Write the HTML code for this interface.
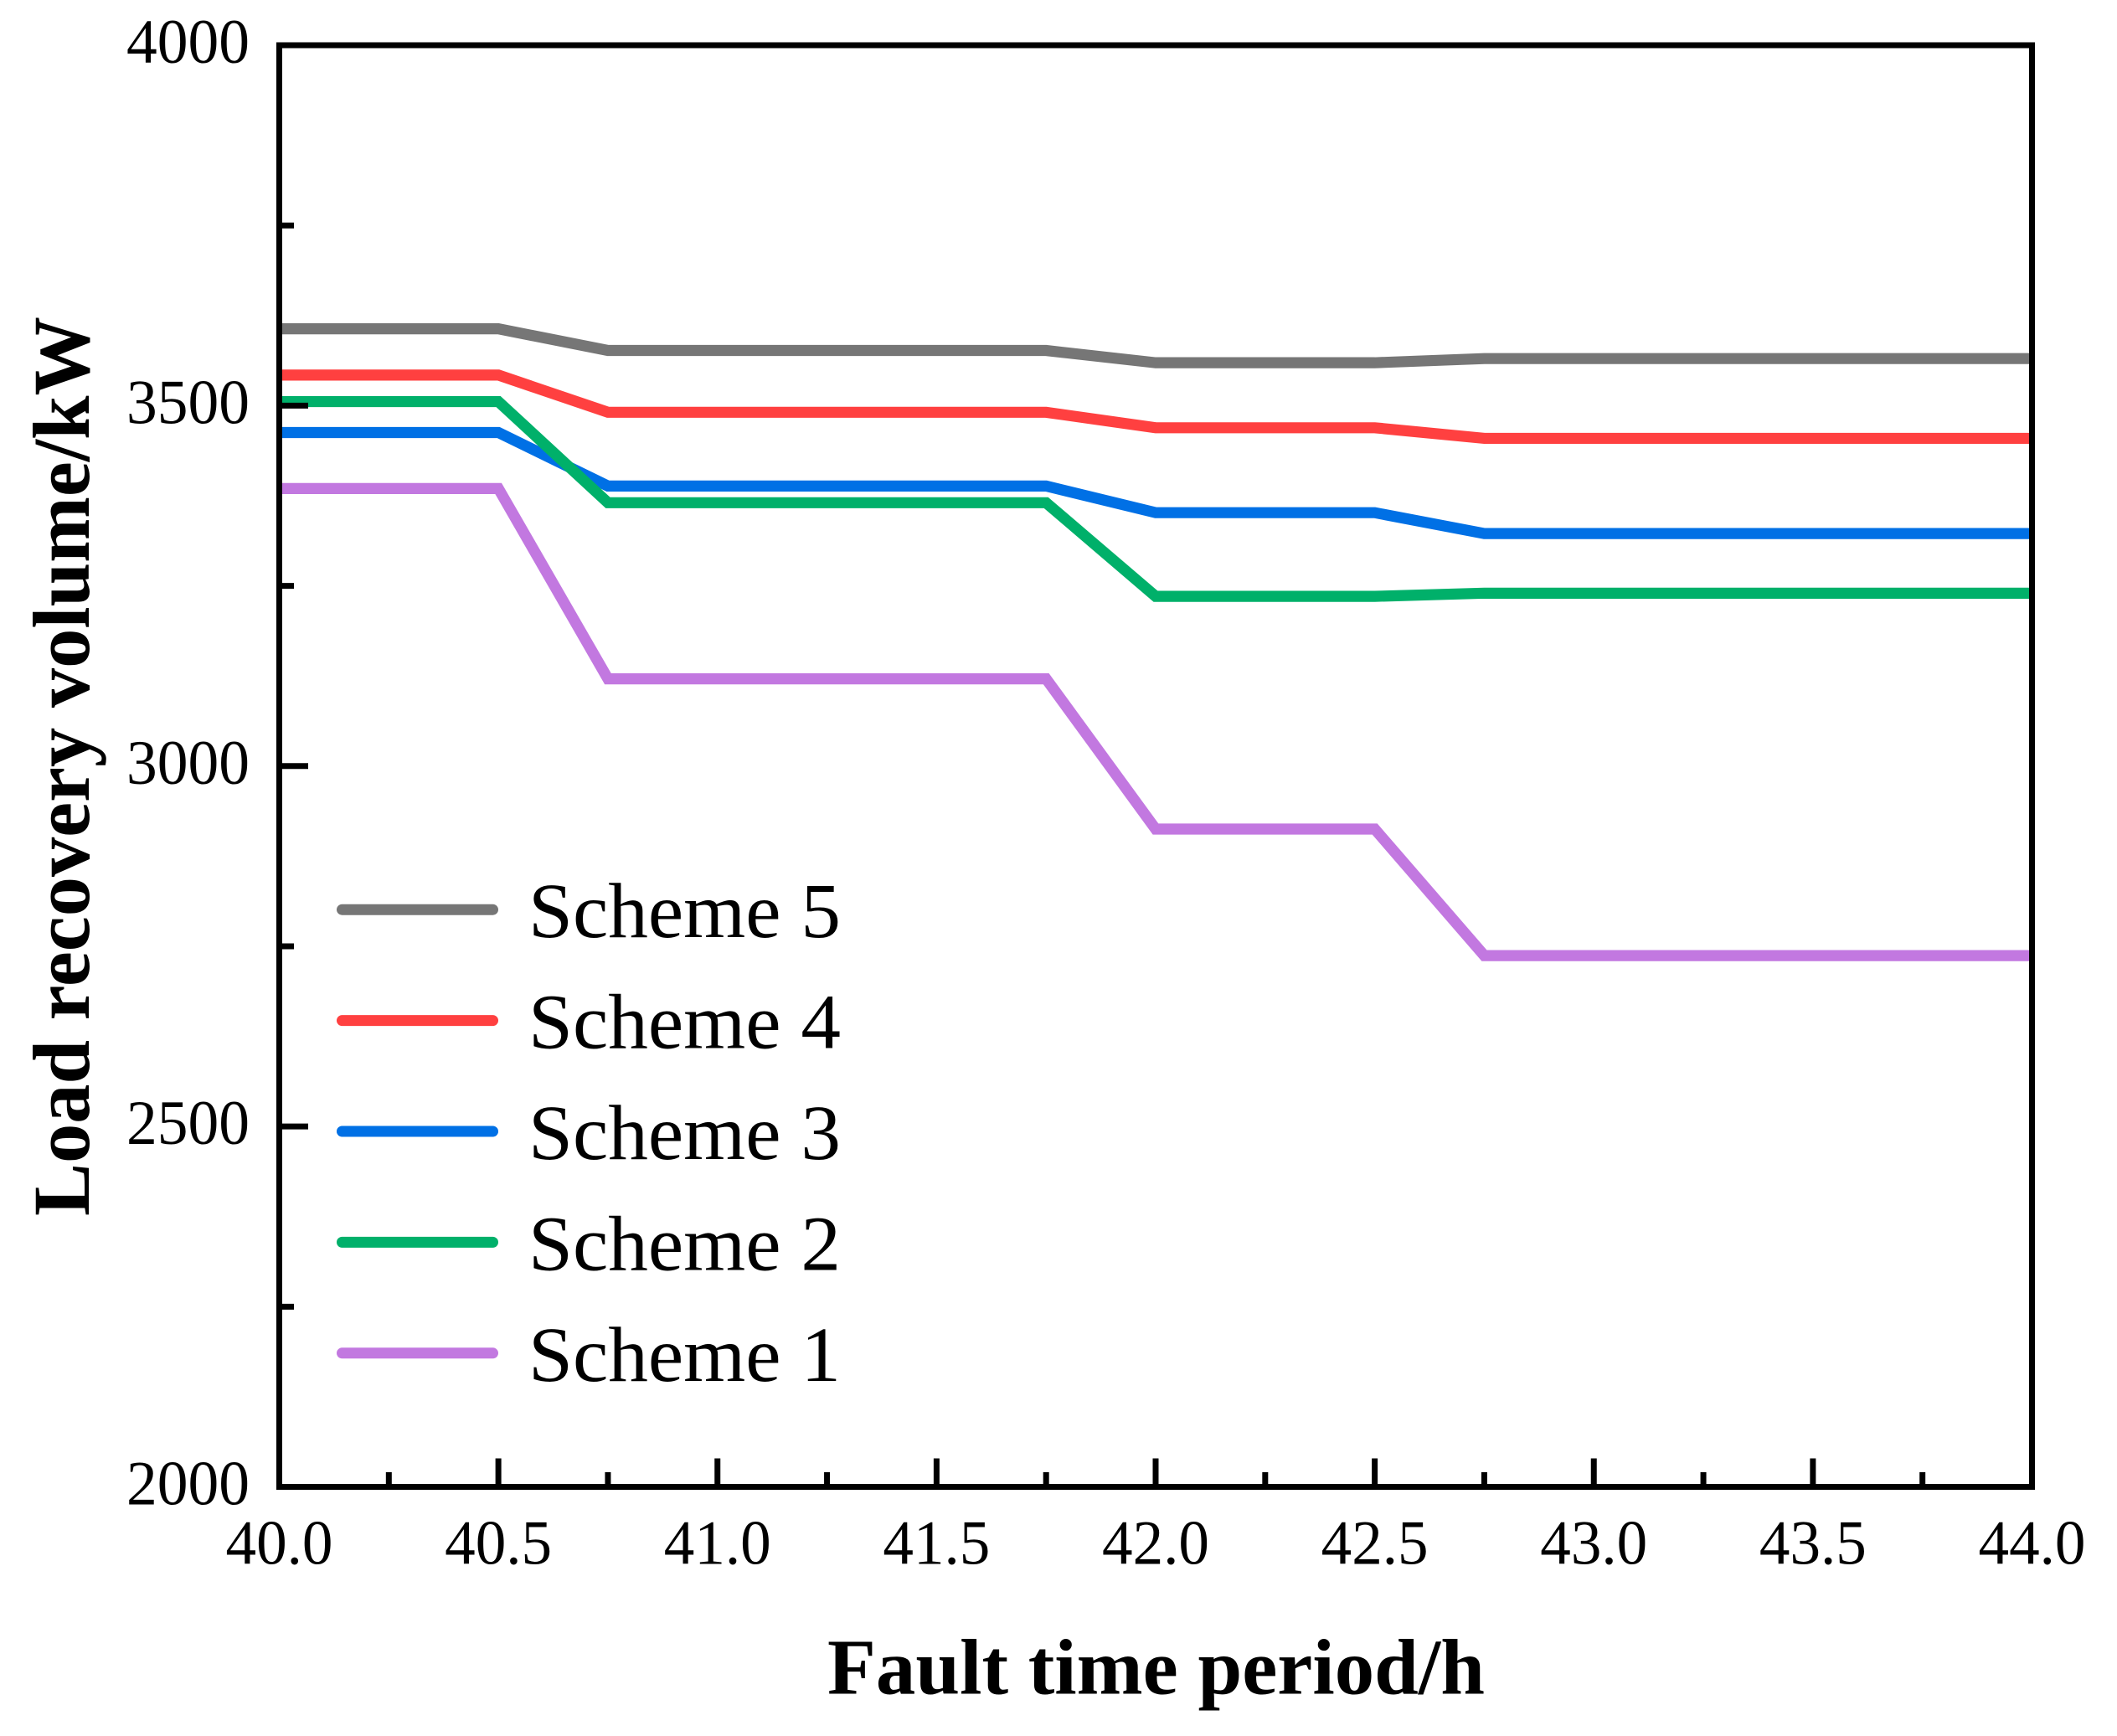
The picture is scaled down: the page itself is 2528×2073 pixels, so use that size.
<!DOCTYPE html>
<html lang="en">
<head>
<meta charset="utf-8">
<title>Load recovery volume chart</title>
<style>
html,body{margin:0;padding:0;background:#fff;}
svg{display:block;}
text{font-family:"Liberation Serif",serif;fill:#000;}
</style>
</head>
<body>
<svg id="chart" xmlns="http://www.w3.org/2000/svg" width="2528" height="2073" viewBox="0 0 2528 2073">
  <rect x="0" y="0" width="2528" height="2073" fill="#fff"/>
  <g id="series-layer"></g>
  <g id="axis-layer"></g>
  <g id="legend-layer"></g>
  <text x="988" y="2022.5" font-size="94" font-weight="bold" textLength="785" lengthAdjust="spacingAndGlyphs">Fault time period/h</text>
  <text transform="translate(106,1452) rotate(-90)" x="0" y="0" font-size="96" font-weight="bold" textLength="1074" lengthAdjust="spacingAndGlyphs">Load recovery volume/kW</text>
</svg>
<script>
const timePoints = [40, 40.5, 40.75, 41.75, 42, 42.5, 42.75, 44];
const scheme5 = [3606.6, 3606.6, 3576.5, 3576.5, 3559.5, 3559.5, 3565.3, 3565.3];
const scheme4 = [3542.4, 3542.4, 3490.8, 3490.8, 3469.3, 3469.3, 3454.6, 3454.6];
const scheme3 = [3462.7, 3462.7, 3388.5, 3388.5, 3351.5, 3351.5, 3322.5, 3322.5];
const scheme2 = [3505.6, 3505.6, 3365.3, 3365.3, 3235.4, 3235.4, 3239.8, 3239.8];
const scheme1 = [3385.0, 3385.0, 3121.0, 3121.0, 2912.6, 2912.6, 2737.0, 2737.0];
const seriesNames = ["Scheme 5", "Scheme 4", "Scheme 3", "Scheme 2", "Scheme 1"];
const seriesColors = ["#767676", "#FF4040", "#0070E5", "#00B06A", "#C278E0"];
const xMajorTicks = [40, 40.5, 41, 41.5, 42, 42.5, 43, 43.5, 44];
const xMinorTicks = [40.25, 40.75, 41.25, 41.75, 42.25, 42.75, 43.25, 43.75];
const xTickLabels = ["40.0", "40.5", "41.0", "41.5", "42.0", "42.5", "43.0", "43.5", "44.0"];
const yMajorTicks = [2000, 2500, 3000, 3500, 4000];
const yMinorTicks = [2250, 2750, 3250, 3750];
const yTickLabels = ["2000", "2500", "3000", "3500", "4000"];

const allSeries = [scheme5, scheme4, scheme3, scheme2, scheme1];
const NS = "http://www.w3.org/2000/svg";
const plotLeft = 333.5, plotRight = 2426.5, plotTop = 54, plotBottom = 1775.5;
const xMin = 40, xMax = 44, yMin = 2000, yMax = 4000;

function xScale(v) { return plotLeft + (v - xMin) / (xMax - xMin) * (plotRight - plotLeft); }
function yScale(v) { return plotBottom - (v - yMin) / (yMax - yMin) * (plotBottom - plotTop); }

function mk(tag, attrs, parent) {
  const el = document.createElementNS(NS, tag);
  for (const k in attrs) el.setAttribute(k, attrs[k]);
  parent.appendChild(el);
  return el;
}

const seriesLayer = document.getElementById("series-layer");
const axisLayer = document.getElementById("axis-layer");
const legendLayer = document.getElementById("legend-layer");

allSeries.forEach(function (vals, i) {
  const pts = vals.map(function (v, j) { return xScale(timePoints[j]).toFixed(2) + "," + yScale(v).toFixed(2); }).join(" ");
  const line = mk("polyline", { points: pts, fill: "none", stroke: seriesColors[i], "stroke-width": 13.2, "stroke-linejoin": "miter" }, seriesLayer);
  
  
});

const frame = mk("rect", { x: plotLeft, y: plotTop, width: plotRight - plotLeft, height: plotBottom - plotTop, fill: "none", stroke: "#000", "stroke-width": 7 }, axisLayer);



xMajorTicks.forEach(function (v, i) {
  const x = xScale(v);
  const t = mk("line", { x1: x, x2: x, y1: plotBottom, y2: plotBottom - 34, stroke: "#000", "stroke-width": 7 }, axisLayer);
  
  
  const lb = mk("text", { x: x, y: 1867.5, "font-size": 75, "text-anchor": "middle", textLength: 128, lengthAdjust: "spacingAndGlyphs" }, axisLayer);
  
  
  lb.textContent = xTickLabels[i];
});
xMinorTicks.forEach(function (v) {
  const x = xScale(v);
  const t = mk("line", { x1: x, x2: x, y1: plotBottom, y2: plotBottom - 17.5, stroke: "#000", "stroke-width": 7 }, axisLayer);
  
  
});
yMajorTicks.forEach(function (v, i) {
  const y = yScale(v);
  const t = mk("line", { x1: plotLeft, x2: plotLeft + 34.5, y1: y, y2: y, stroke: "#000", "stroke-width": 7 }, axisLayer);
  
  
  const lb = mk("text", { x: 298, y: y + 21, "font-size": 75, "text-anchor": "end", textLength: 147, lengthAdjust: "spacingAndGlyphs" }, axisLayer);
  
  
  lb.textContent = yTickLabels[i];
});
yMinorTicks.forEach(function (v) {
  const y = yScale(v);
  const t = mk("line", { x1: plotLeft, x2: plotLeft + 17.5, y1: y, y2: y, stroke: "#000", "stroke-width": 7 }, axisLayer);
  
  
});

seriesNames.forEach(function (name, i) {
  const rowY = 1086.2 + i * 132.4;
  const swatch = mk("line", { x1: 408.5, x2: 588.5, y1: rowY, y2: rowY, stroke: seriesColors[i], "stroke-width": 13, "stroke-linecap": "round" }, legendLayer);
  
  
  const label = mk("text", { x: 631, y: rowY + 33, "font-size": 93, textLength: 373, lengthAdjust: "spacingAndGlyphs" }, legendLayer);
  
  
  label.textContent = name;
});
</script>
</body>
</html>
